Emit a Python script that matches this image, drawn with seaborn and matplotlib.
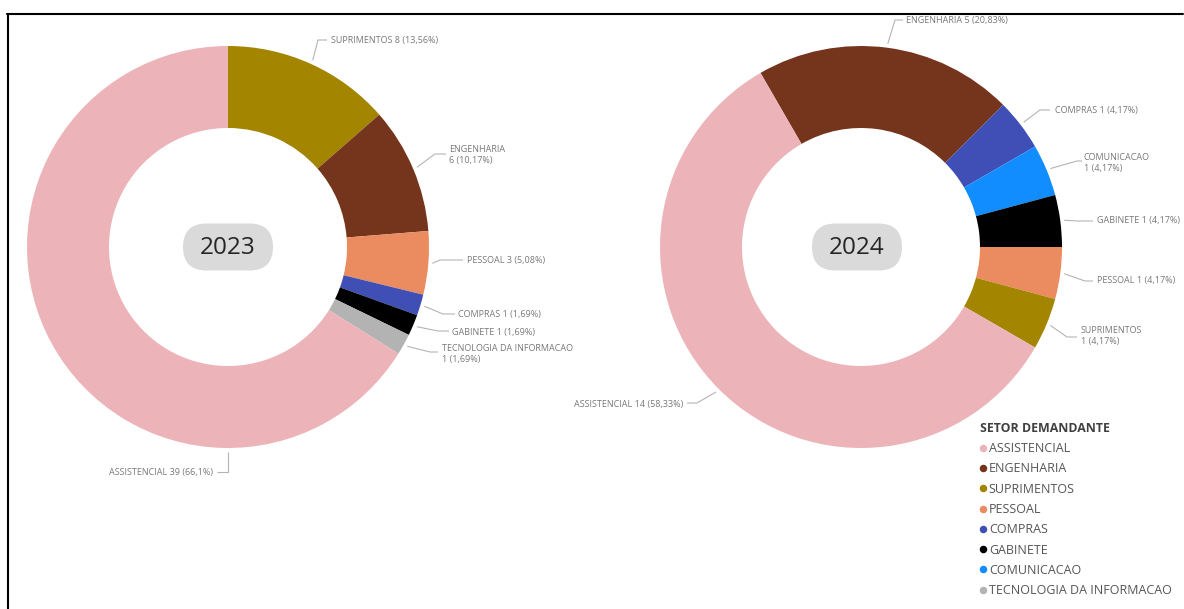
import matplotlib
matplotlib.use("Agg")
import numpy as np
import matplotlib.pyplot as plt
import seaborn as sns
from matplotlib.patches import FancyBboxPatch
from matplotlib.lines import Line2D

# ---------------- data ----------------
setores = ["ASSISTENCIAL", "ENGENHARIA", "SUPRIMENTOS", "PESSOAL",
           "COMPRAS", "GABINETE", "COMUNICACAO", "TECNOLOGIA DA INFORMACAO"]
cores = ["#ECB4B8", "#75341C", "#A38500", "#EB8B60",
         "#3F4FB5", "#000000", "#118DFF", "#B3B3B3"]

setores_2023 = ["SUPRIMENTOS", "ENGENHARIA", "PESSOAL", "COMPRAS",
                "GABINETE", "TECNOLOGIA DA INFORMACAO", "ASSISTENCIAL"]
qtd_2023 = [8, 6, 3, 1, 1, 1, 39]

setores_2024 = ["ENGENHARIA", "COMPRAS", "COMUNICACAO", "GABINETE",
                "PESSOAL", "SUPRIMENTOS", "ASSISTENCIAL"]
qtd_2024 = [5, 1, 1, 1, 1, 1, 14]

titulo_legenda = "SETOR DEMANDANTE"

# ---------------- style ----------------
sns.set_theme(style="white")
plt.rcParams["font.family"] = ["Open Sans", "DejaVu Sans"]

W, H = 1184, 609
fig = plt.figure(figsize=(W / 100, H / 100), dpi=100)
ax = fig.add_axes([0, 0, 1, 1])

cor_de = dict(zip(setores, cores))
COR_ROTULO = "#787878"
COR_GUIA = "#b4b4b4"
R_EXT, R_INT = 201, 119


def up(y):
    """page coordinate (top-down) -> axis coordinate (bottom-up)"""
    return H - y


def fmt_pct(v):
    s = f"{v:.2f}".rstrip("0").rstrip(".")
    return s.replace(".", ",")


# label placement for each donut: elbow of the guide line, end of the guide line, text anchor
layout_2023 = {
    "SUPRIMENTOS": dict(elbow=(318, 40), end=(327, 40), text=(331, 40), ha="left", wrap=False),
    "ENGENHARIA": dict(elbow=(435, 154), end=(446, 154), text=(449, 155), ha="left", wrap=True),
    "PESSOAL": dict(elbow=(440, 260), end=(463, 260), text=(467, 261), ha="left", wrap=False),
    "COMPRAS": dict(elbow=(443, 314), end=(455, 314), text=(458, 314), ha="left", wrap=False),
    "GABINETE": dict(elbow=(438, 331), end=(449, 331), text=(452, 332), ha="left", wrap=False),
    "TECNOLOGIA DA INFORMACAO": dict(elbow=(430, 352), end=(438, 352), text=(442, 354), ha="left", wrap=True),
    "ASSISTENCIAL": dict(elbow=(228, 472), end=(217, 472), text=(213, 473), ha="right", wrap=False, ang=180),
}
layout_2024 = {
    "ENGENHARIA": dict(elbow=(895, 20), end=(903, 20), text=(906, 20), ha="left", wrap=False),
    "COMPRAS": dict(elbow=(1040, 110), end=(1050, 110), text=(1055, 111), ha="left", wrap=False),
    "COMUNICACAO": dict(elbow=(1077, 161), end=(1082, 161), text=(1084, 163), ha="left", wrap=True),
    "GABINETE": dict(elbow=(1078, 221), end=(1093, 221), text=(1097, 220), ha="left", wrap=False),
    "PESSOAL": dict(elbow=(1085, 281), end=(1093, 281), text=(1097, 280), ha="left", wrap=False),
    "SUPRIMENTOS": dict(elbow=(1067, 337), end=(1077, 337), text=(1081, 336), ha="left", wrap=True),
    "ASSISTENCIAL": dict(elbow=(697, 403), end=(687, 403), text=(683, 404), ha="right", wrap=False),
}

donuts = [
    dict(ano="2023", nomes=setores_2023, qtd=qtd_2023, centro=(228, 247),
         inicio=0, caixa=(228, 247), layout=layout_2023),
    dict(ano="2024", nomes=setores_2024, qtd=qtd_2024, centro=(861, 247),
         inicio=-30, caixa=(857, 247), layout=layout_2024),
]

for d in donuts:
    cx, cy = d["centro"]
    qtd = np.array(d["qtd"], dtype=float)
    total = qtd.sum()
    ax.pie(qtd, colors=[cor_de[n] for n in d["nomes"]],
           startangle=90 - d["inicio"], counterclock=False,
           center=(cx, up(cy)), radius=R_EXT, frame=True,
           wedgeprops=dict(width=R_EXT - R_INT, linewidth=0))

    acumulado = np.cumsum(qtd) - qtd / 2
    for nome, q, meio in zip(d["nomes"], qtd, acumulado):
        lay = d["layout"][nome]
        ang = lay.get("ang", d["inicio"] + 360 * meio / total)
        a = np.radians(ang)
        sx = cx + (R_EXT + 4) * np.sin(a)
        sy = up(cy) + (R_EXT + 4) * np.cos(a)
        ex, ey = lay["elbow"]
        fx, fy = lay["end"]
        ax.plot([sx, ex, fx], [sy, up(ey), up(fy)], color=COR_GUIA, lw=0.8,
                solid_capstyle="butt")
        pct = fmt_pct(100 * q / total)
        sep = "\n" if lay["wrap"] else " "
        txt = f"{nome}{sep}{int(q)} ({pct}%)"
        tx, ty = lay["text"]
        ax.text(tx, up(ty), txt, ha=lay["ha"], va="center", fontsize=6.5,
                color=COR_ROTULO, linespacing=1.25)

    # year badge in the hole
    bx, by = d["caixa"]
    ax.add_patch(FancyBboxPatch((bx - 45, up(by) - 23.5), 90, 47,
                                boxstyle="round,pad=0,rounding_size=23.5",
                                facecolor="#dadada", edgecolor="none"))
    ax.text(bx, up(by) - 1, d["ano"], ha="center", va="center",
            fontsize=17.5, color="#252525")

ax.set_xlim(0, W)
ax.set_ylim(0, H)
ax.set_aspect("equal")
ax.axis("off")

# legend
handles = [Line2D([], [], marker="o", linestyle="", markersize=4.4,
                  markerfacecolor=c, markeredgecolor=c) for c in cores]
leg = ax.legend(handles, setores, title=titulo_legenda, loc="upper left",
                bbox_to_anchor=(980 / W, 1 - 422 / H), bbox_transform=fig.transFigure,
                frameon=False, fontsize=9, labelcolor="#555555",
                title_fontproperties={"weight": "bold", "size": 8.9},
                handlelength=0.45, handletextpad=0.25, labelspacing=0.58,
                borderpad=0, borderaxespad=0)
leg.get_title().set_color("#404040")
leg._legend_box.align = "left"

# frame lines
fig.add_artist(Line2D([7 / W, 1183 / W], [1 - 13.5 / H] * 2, transform=fig.transFigure,
                      color="black", lw=1.5))
fig.add_artist(Line2D([8 / W, 8 / W], [0, 1 - 13.5 / H], transform=fig.transFigure,
                      color="black", lw=1.5))

fig.savefig("out.png", dpi=100)
